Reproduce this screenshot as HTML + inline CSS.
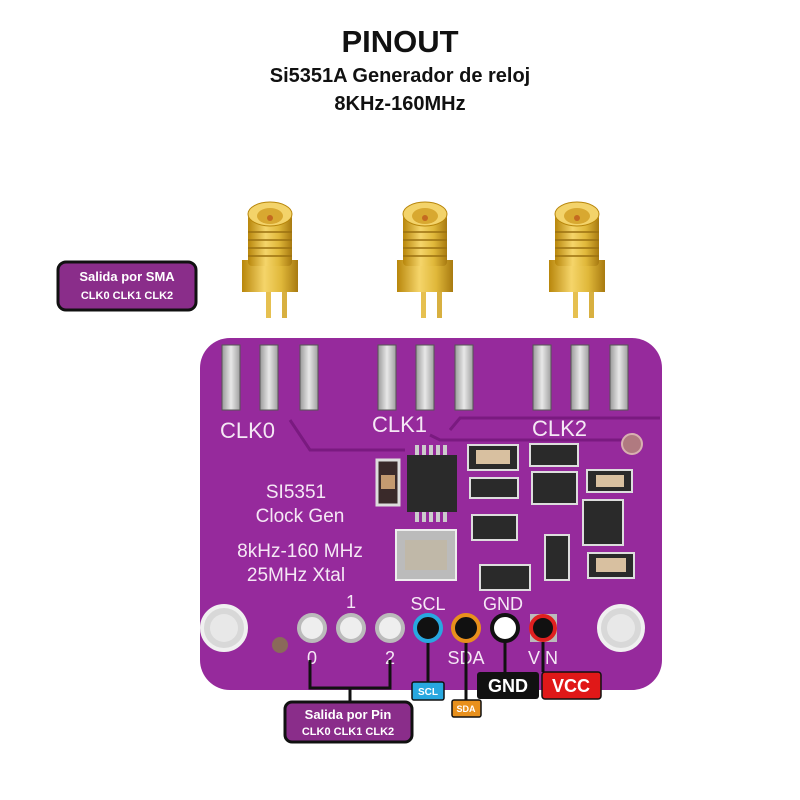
<!DOCTYPE html>
<html><head><meta charset="utf-8"><style>
html,body{margin:0;padding:0;background:#fff;}
svg{display:block;font-family:"Liberation Sans",sans-serif;}
</style></head><body>
<svg width="800" height="800" viewBox="0 0 800 800" xmlns="http://www.w3.org/2000/svg">
<defs>
<linearGradient id="gold" x1="0" x2="1"><stop offset="0" stop-color="#b8860b"/><stop offset="0.4" stop-color="#f5d56a"/><stop offset="0.7" stop-color="#e0b83a"/><stop offset="1" stop-color="#a87a10"/></linearGradient>
<linearGradient id="pad" x1="0" x2="1"><stop offset="0" stop-color="#9a9a9a"/><stop offset="0.5" stop-color="#e8e8e8"/><stop offset="1" stop-color="#a0a0a0"/></linearGradient>
<g id="sma">
<rect x="-4" y="290" width="5" height="36" fill="#e6c050"/><rect x="12" y="290" width="5" height="36" fill="#d8b040"/>
<rect x="-28" y="268" width="56" height="32" fill="url(#gold)"/>
<rect x="-22" y="222" width="44" height="52" rx="4" fill="url(#gold)"/>
<g stroke="#9a7010" stroke-width="1.5"><line x1="-22" y1="240" x2="22" y2="240"/><line x1="-22" y1="248" x2="22" y2="248"/><line x1="-22" y1="256" x2="22" y2="256"/><line x1="-22" y1="264" x2="22" y2="264"/></g>
<ellipse cx="0" cy="222" rx="22" ry="12" fill="#f3d36a" stroke="#b8860b"/>
<ellipse cx="0" cy="224" rx="13" ry="8" fill="#d8a830"/>
<circle cx="0" cy="226" r="3" fill="#c46a20"/>
</g>
</defs>
<text x="400" y="52" text-anchor="middle" font-size="31" font-weight="bold" fill="#111">PINOUT</text>
<text x="400" y="82" text-anchor="middle" font-size="20" font-weight="bold" fill="#111">Si5351A Generador de reloj</text>
<text x="400" y="110" text-anchor="middle" font-size="20" font-weight="bold" fill="#111">8KHz-160MHz</text>

<use href="#sma" x="270" y="-8"/>
<use href="#sma" x="425" y="-8"/>
<use href="#sma" x="577" y="-8"/>

<rect x="58" y="262" width="138" height="48" rx="8" fill="#8a2d8a" stroke="#111" stroke-width="3"/>
<text x="127" y="281" text-anchor="middle" font-size="13" font-weight="bold" fill="#fff">Salida por SMA</text>
<text x="127" y="299" text-anchor="middle" font-size="11" font-weight="bold" fill="#fff">CLK0 CLK1 CLK2</text>

<rect x="200" y="338" width="462" height="352" rx="30" fill="#962a9c"/>
<g fill="none" stroke="#7a1a80" stroke-width="3">
<path d="M290 420 L310 450 L405 450"/><path d="M430 435 L440 440 L640 440"/><path d="M450 430 L460 418 L660 418"/>
</g>
<g fill="url(#pad)" stroke="#555" stroke-width="1">
<rect x="222" y="345" width="18" height="65"/><rect x="260" y="345" width="18" height="65"/><rect x="300" y="345" width="18" height="65"/>
<rect x="378" y="345" width="18" height="65"/><rect x="416" y="345" width="18" height="65"/><rect x="455" y="345" width="18" height="65"/>
<rect x="533" y="345" width="18" height="65"/><rect x="571" y="345" width="18" height="65"/><rect x="610" y="345" width="18" height="65"/>
</g>
<g fill="#f5e8f5" font-size="22">
<text x="220" y="438">CLK0</text><text x="372" y="432">CLK1</text><text x="532" y="436">CLK2</text>
</g>
<g fill="#f5e8f5" font-size="19" text-anchor="middle">
<text x="296" y="498">SI5351</text><text x="300" y="522">Clock Gen</text>
<text x="300" y="557">8kHz-160 MHz</text><text x="296" y="581">25MHz Xtal</text>
</g>
<circle cx="632" cy="444" r="10" fill="#b07a80" stroke="#d8b0b0" stroke-width="2"/>
<g fill="#ccc"><rect x="415" y="445" width="4" height="12"/><rect x="422" y="445" width="4" height="12"/><rect x="429" y="445" width="4" height="12"/><rect x="436" y="445" width="4" height="12"/><rect x="443" y="445" width="4" height="12"/>
<rect x="415" y="510" width="4" height="12"/><rect x="422" y="510" width="4" height="12"/><rect x="429" y="510" width="4" height="12"/><rect x="436" y="510" width="4" height="12"/><rect x="443" y="510" width="4" height="12"/></g>
<rect x="407" y="455" width="50" height="57" fill="#2a2a2a"/>
<rect x="377" y="460" width="22" height="45" fill="#3a2a2a" stroke="#ddd" stroke-width="3"/><rect x="381" y="475" width="14" height="14" fill="#c49a70"/>
<rect x="396" y="530" width="60" height="50" fill="#bbb" stroke="#eee" stroke-width="2"/><rect x="405" y="540" width="42" height="30" fill="#c0b8a8"/>
<g fill="#2a2a2a" stroke="#ddd" stroke-width="2">
<rect x="468" y="445" width="50" height="25"/><rect x="470" y="478" width="48" height="20"/><rect x="472" y="515" width="45" height="25"/>
<rect x="530" y="444" width="48" height="22"/><rect x="532" y="472" width="45" height="32"/><rect x="587" y="470" width="45" height="22"/>
<rect x="583" y="500" width="40" height="45"/><rect x="545" y="535" width="24" height="45"/><rect x="588" y="553" width="46" height="25"/><rect x="480" y="565" width="50" height="25"/>
</g>
<g fill="#d8c0a0"><rect x="476" y="450" width="34" height="14"/><rect x="596" y="475" width="28" height="12"/><rect x="596" y="558" width="30" height="14"/></g>
<circle cx="224" cy="628" r="22" fill="#d8d8d8" stroke="#f0f0f0" stroke-width="4"/><circle cx="224" cy="628" r="14" fill="#e8e8e8"/>
<circle cx="621" cy="628" r="22" fill="#d8d8d8" stroke="#f0f0f0" stroke-width="4"/><circle cx="621" cy="628" r="14" fill="#e8e8e8"/>
<circle cx="280" cy="645" r="8" fill="#8a6a5a"/>
<g fill="#f5e8f5" font-size="18" text-anchor="middle">
<text x="351" y="608">1</text><text x="312" y="664">0</text><text x="390" y="664">2</text>
<text x="428" y="610">SCL</text><text x="503" y="610">GND</text><text x="466" y="664">SDA</text><text x="543" y="664">VIN</text>
</g>
<g stroke="#111" stroke-width="3" fill="none">
<path d="M310 660 L310 688 L390 688 L390 660"/><path d="M350 688 L350 702"/>
<path d="M428 642 L428 682"/><path d="M466 642 L466 700"/>
<path d="M505 642 L505 672"/><path d="M543 642 L543 672"/>
</g>
<g stroke-width="4"><circle cx="312" cy="628" r="13" fill="#eee" stroke="#bbb"/><circle cx="351" cy="628" r="13" fill="#eee" stroke="#bbb"/><circle cx="390" cy="628" r="13" fill="#eee" stroke="#bbb"/>
<circle cx="428" cy="628" r="13" fill="#111" stroke="#28a8e0"/><circle cx="466" cy="628" r="13" fill="#111" stroke="#e8901c"/><circle cx="505" cy="628" r="13" fill="#fff" stroke="#111"/></g>
<rect x="530" y="614" width="27" height="28" fill="#bbb"/><circle cx="543" cy="628" r="12" fill="#111" stroke="#e02020" stroke-width="4"/>
<rect x="412" y="682" width="32" height="18" rx="2" fill="#28a8e0" stroke="#111" stroke-width="1.5"/><text x="428" y="695" text-anchor="middle" font-size="10" font-weight="bold" fill="#fff">SCL</text>
<rect x="452" y="700" width="29" height="17" rx="2" fill="#e8901c" stroke="#111" stroke-width="1.5"/><text x="466" y="712" text-anchor="middle" font-size="9" font-weight="bold" fill="#fff">SDA</text>
<rect x="477" y="672" width="62" height="27" rx="3" fill="#111"/><text x="508" y="692" text-anchor="middle" font-size="18" font-weight="bold" fill="#fff">GND</text>
<rect x="542" y="672" width="59" height="27" rx="3" fill="#e01818" stroke="#111" stroke-width="1.5"/><text x="571" y="692" text-anchor="middle" font-size="18" font-weight="bold" fill="#fff">VCC</text>
<rect x="285" y="702" width="127" height="40" rx="7" fill="#8a2d8a" stroke="#111" stroke-width="3"/>
<text x="348" y="719" text-anchor="middle" font-size="13" font-weight="bold" fill="#fff">Salida por Pin</text>
<text x="348" y="735" text-anchor="middle" font-size="11" font-weight="bold" fill="#fff">CLK0 CLK1 CLK2</text>
</svg>
</body></html>
